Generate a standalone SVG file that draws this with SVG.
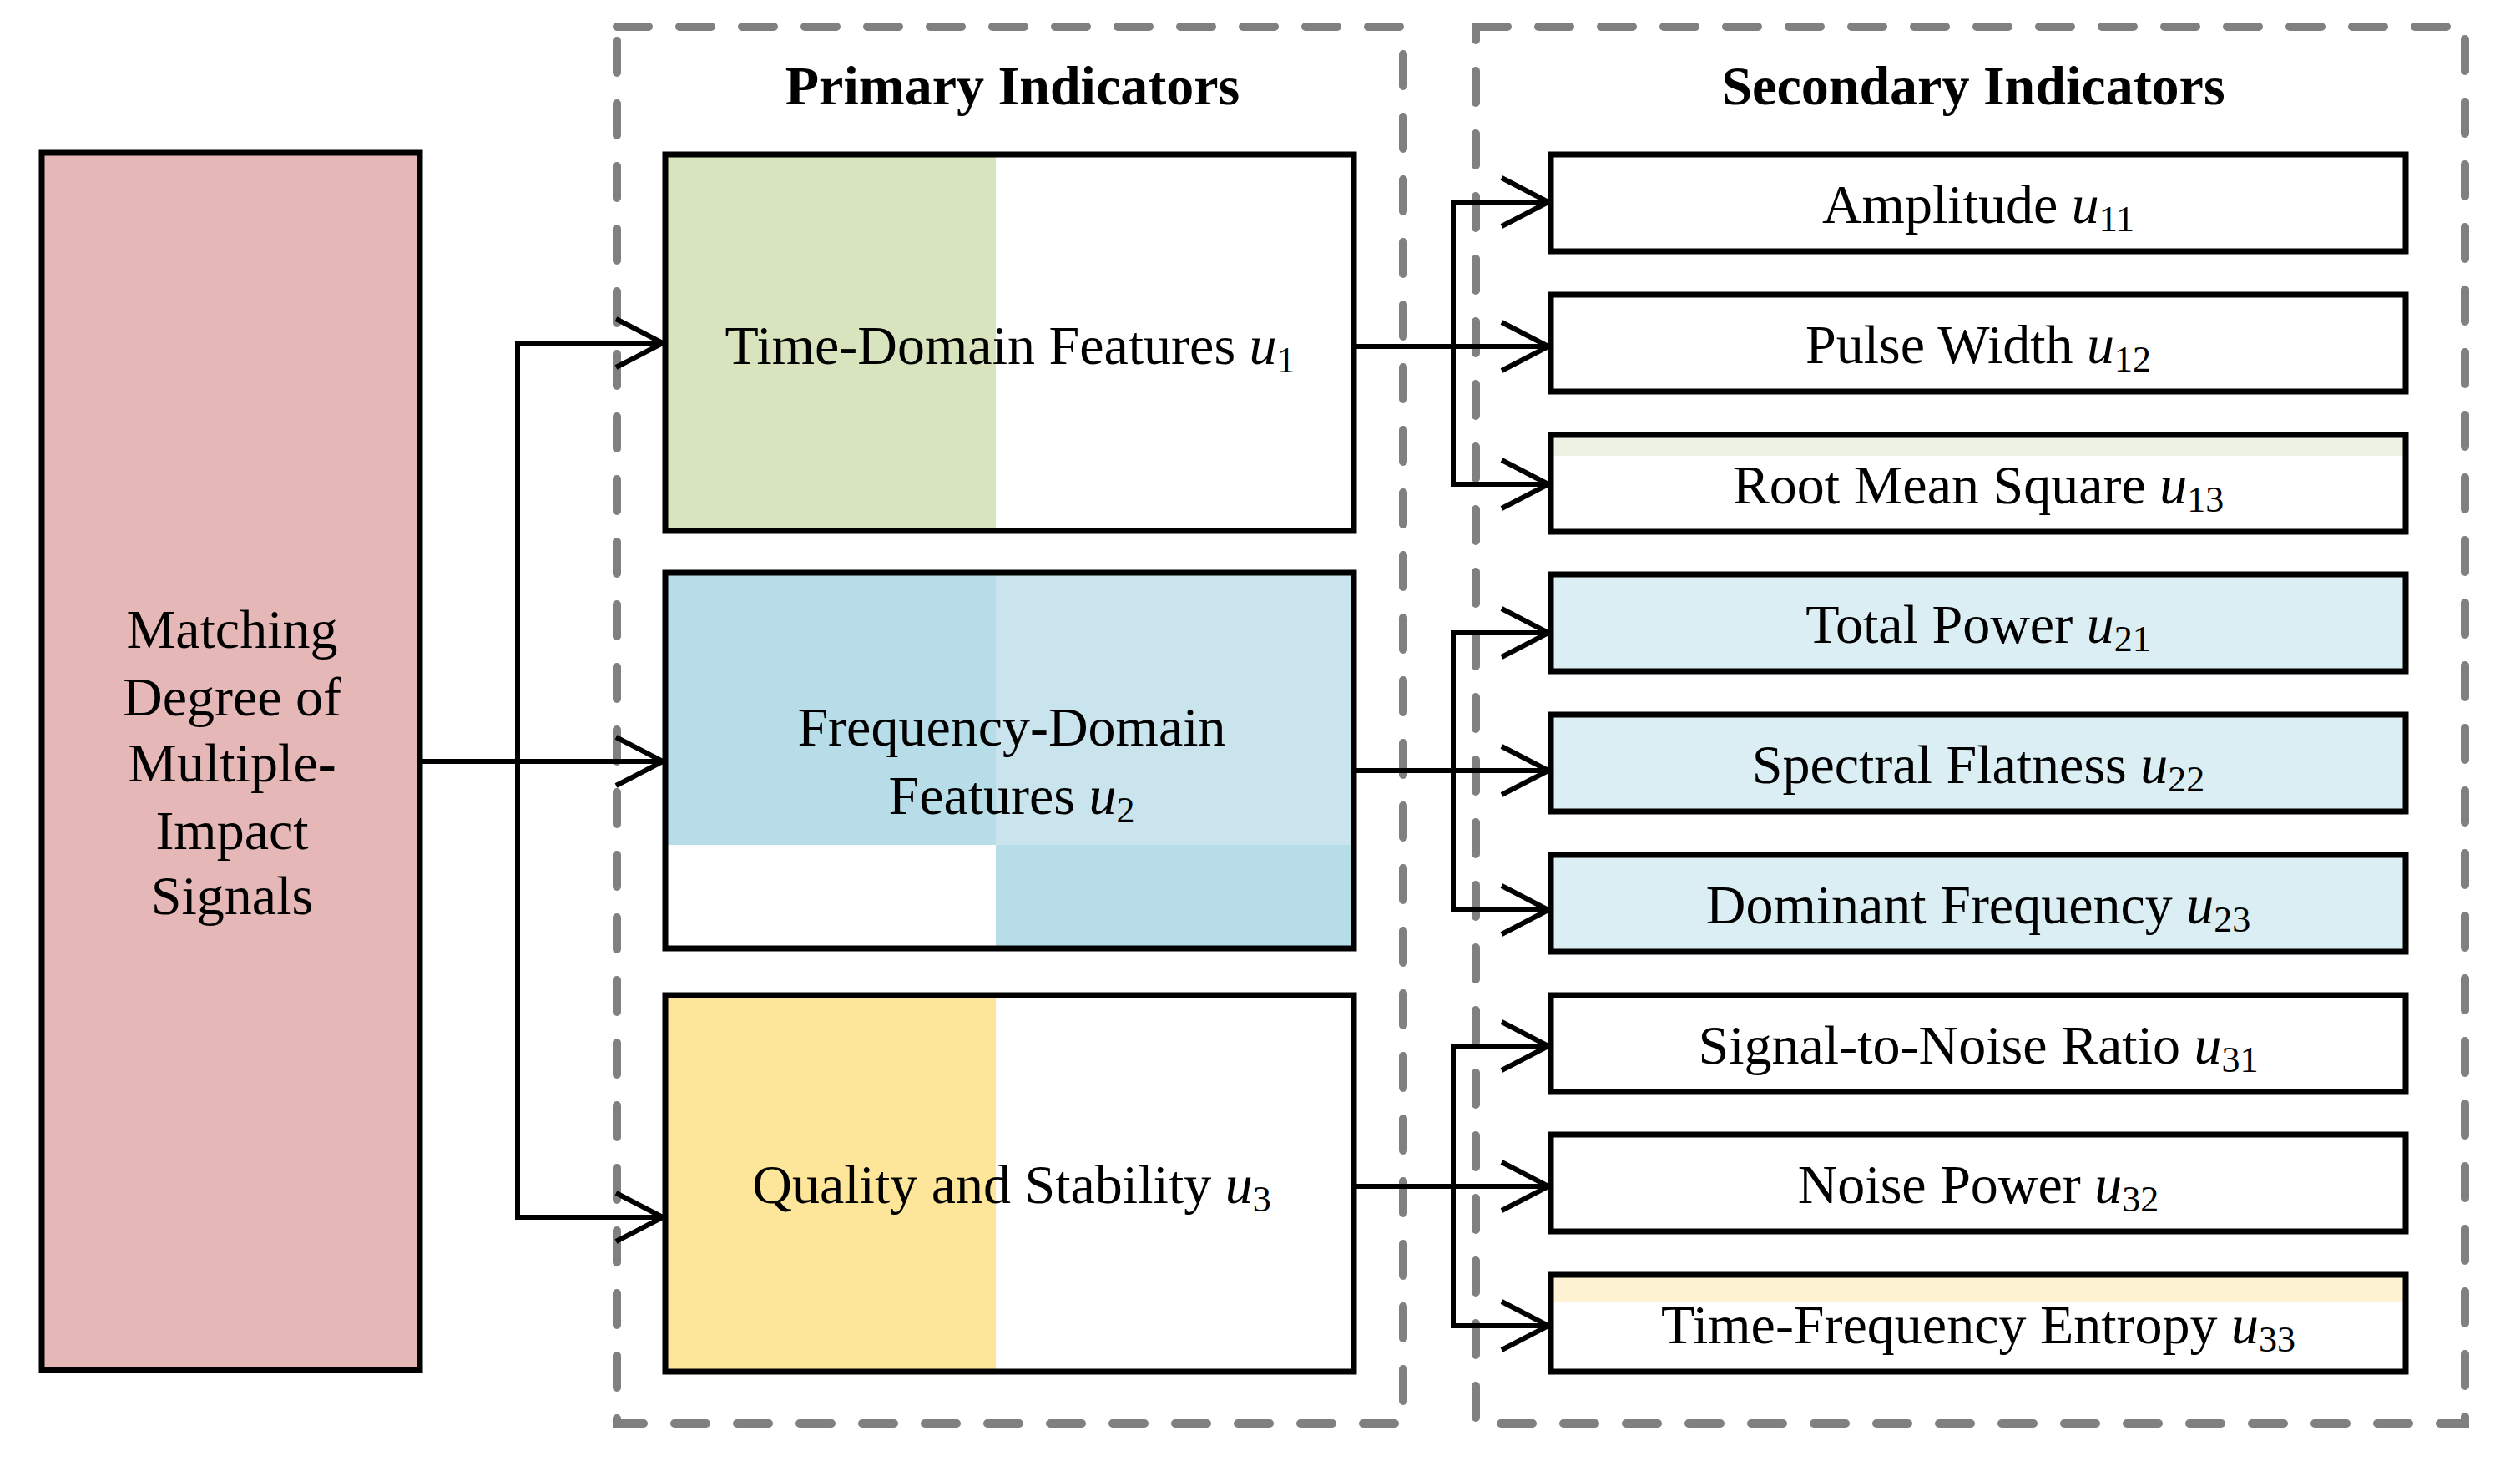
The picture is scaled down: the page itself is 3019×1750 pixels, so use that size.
<svg xmlns="http://www.w3.org/2000/svg" width="3019" height="1750" viewBox="0 0 3019 1750">
<style>
.box{stroke:#000;stroke-width:7;fill:none;stroke-linejoin:miter}
.dash{fill:none;stroke:#808080;stroke-width:10;stroke-dasharray:38 37;stroke-linecap:round}
.con{fill:none;stroke:#000;stroke-width:6;marker-end:url(#arr)}
.t{font-family:"Liberation Serif","Times New Roman",serif;font-size:66px;fill:#000;text-anchor:middle}
.h{font-weight:bold}
.i{font-style:italic}
.s{font-size:44px}
</style>
<defs>
<marker id="arr" markerUnits="userSpaceOnUse" markerWidth="80" markerHeight="80" refX="62" refY="40" orient="auto" overflow="visible">
<path d="M6,11 L62,40 L6,69" fill="none" stroke="#000" stroke-width="6"/>
</marker>
</defs>
<rect width="3019" height="1750" fill="#fff"/>
<g id="group-primary">
<rect class="dash" x="739" y="32" width="942" height="1673"/>
<text class="t h" x="1213" y="125">Primary Indicators</text>
</g>
<g id="group-secondary">
<rect class="dash" x="1768" y="32" width="1185" height="1673"/>
<text class="t h" x="2364" y="125">Secondary Indicators</text>
</g>
<g id="node-root">
<rect x="50" y="183" width="453" height="1458" fill="#E5B8B7"/>
<rect class="box" x="50" y="183" width="453" height="1458"/>
<text class="t" x="278" y="776">Matching</text>
<text class="t" x="278" y="857">Degree of</text>
<text class="t" x="278" y="936">Multiple-</text>
<text class="t" x="278" y="1017">Impact</text>
<text class="t" x="278" y="1095">Signals</text>
</g>
<g id="node-u1">
<rect x="797" y="185" width="396" height="451" fill="#D7E4BD"/>
<rect class="box" x="797" y="185" width="825" height="451"/>
<text class="t" x="1210" y="436">Time-Domain Features <tspan class="i">u</tspan><tspan class="s" dy="10">1</tspan></text>
</g>
<g id="node-u2">
<rect x="797" y="686" width="396" height="326" fill="#B7DDE8"/>
<rect x="1193" y="686" width="429" height="326" fill="#C9E4EC"/>
<rect x="1193" y="1012" width="429" height="124" fill="#B7DDE8"/>
<rect class="box" x="797" y="686" width="825" height="450"/>
<text class="t" x="1212" y="893">Frequency-Domain</text>
<text class="t" x="1212" y="975">Features <tspan class="i">u</tspan><tspan class="s" dy="10">2</tspan></text>
</g>
<g id="node-u3">
<rect x="797" y="1192" width="396" height="451" fill="#FDE59A"/>
<rect class="box" x="797" y="1192" width="825" height="451"/>
<text class="t" x="1212" y="1441">Quality and Stability <tspan class="i">u</tspan><tspan class="s" dy="10">3</tspan></text>
</g>
<g id="node-u11">
<rect class="box" x="1858" y="185" width="1024" height="116"/>
<text class="t" x="2370" y="267">Amplitude <tspan class="i">u</tspan><tspan class="s" dy="10">11</tspan></text>
</g>
<g id="node-u12">
<rect class="box" x="1858" y="353" width="1024" height="116"/>
<text class="t" x="2370" y="435">Pulse Width <tspan class="i">u</tspan><tspan class="s" dy="10">12</tspan></text>
</g>
<g id="node-u13">
<rect x="1858" y="521" width="1024" height="25" fill="#EEF2E4"/>
<rect class="box" x="1858" y="521" width="1024" height="116"/>
<text class="t" x="2370" y="603">Root Mean Square <tspan class="i">u</tspan><tspan class="s" dy="10">13</tspan></text>
</g>
<g id="node-u21">
<rect x="1858" y="688" width="1024" height="116" fill="#DBEEF4"/>
<rect class="box" x="1858" y="688" width="1024" height="116"/>
<text class="t" x="2370" y="770">Total Power <tspan class="i">u</tspan><tspan class="s" dy="10">21</tspan></text>
</g>
<g id="node-u22">
<rect x="1858" y="856" width="1024" height="116" fill="#DBEEF4"/>
<rect class="box" x="1858" y="856" width="1024" height="116"/>
<text class="t" x="2370" y="938">Spectral Flatness <tspan class="i">u</tspan><tspan class="s" dy="10">22</tspan></text>
</g>
<g id="node-u23">
<rect x="1858" y="1024" width="1024" height="116" fill="#DBEEF4"/>
<rect class="box" x="1858" y="1024" width="1024" height="116"/>
<text class="t" x="2370" y="1106">Dominant Frequency <tspan class="i">u</tspan><tspan class="s" dy="10">23</tspan></text>
</g>
<g id="node-u31">
<rect class="box" x="1858" y="1192" width="1024" height="116"/>
<text class="t" x="2370" y="1274">Signal-to-Noise Ratio <tspan class="i">u</tspan><tspan class="s" dy="10">31</tspan></text>
</g>
<g id="node-u32">
<rect class="box" x="1858" y="1359" width="1024" height="116"/>
<text class="t" x="2370" y="1441">Noise Power <tspan class="i">u</tspan><tspan class="s" dy="10">32</tspan></text>
</g>
<g id="node-u33">
<rect x="1858" y="1527" width="1024" height="32" fill="#FDF3D3"/>
<rect class="box" x="1858" y="1527" width="1024" height="116"/>
<text class="t" x="2370" y="1609">Time-Frequency Entropy <tspan class="i">u</tspan><tspan class="s" dy="10">33</tspan></text>
</g>
<g id="connectors">
<path class="con" d="M503,912 H794"/>
<path class="con" d="M620,912 V411 H794"/>
<path class="con" d="M620,912 V1458 H794"/>
<path class="con" d="M1622,415 H1855"/>
<path class="con" d="M1741,415 V242 H1855"/>
<path class="con" d="M1741,415 V580 H1855"/>
<path class="con" d="M1622,923 H1855"/>
<path class="con" d="M1741,923 V758 H1855"/>
<path class="con" d="M1741,923 V1090 H1855"/>
<path class="con" d="M1622,1421 H1855"/>
<path class="con" d="M1741,1421 V1253 H1855"/>
<path class="con" d="M1741,1421 V1588 H1855"/>
</g>
</svg>
